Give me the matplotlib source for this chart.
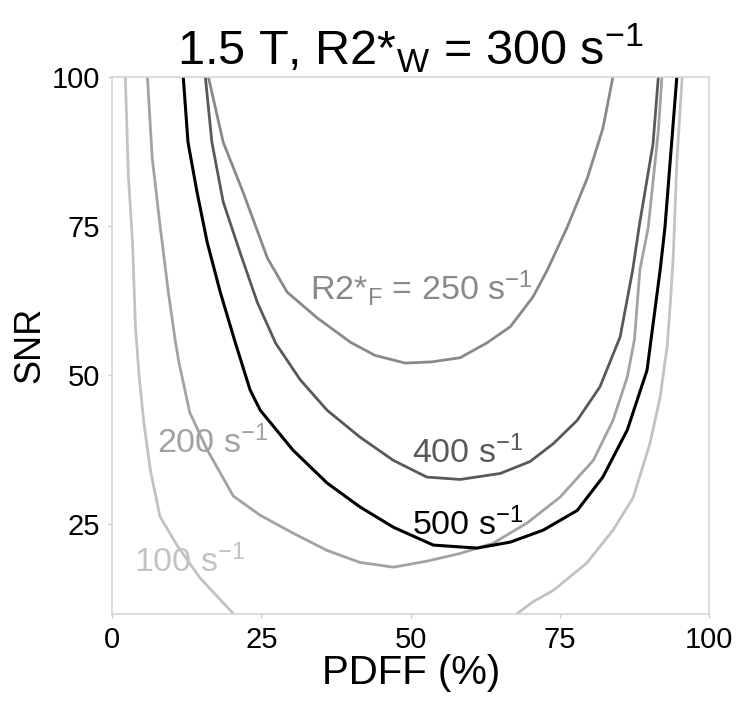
import numpy as np
import matplotlib
matplotlib.use("Agg")
import matplotlib.pyplot as plt

plt.rcParams['font.family'] = ['Liberation Sans', 'DejaVu Sans']
plt.rcParams['mathtext.fontset'] = 'custom'
plt.rcParams['mathtext.rm'] = 'Liberation Sans'
plt.rcParams['mathtext.it'] = 'Liberation Sans:italic'

# iso-error contours: PDFF (%) vs SNR, one per R2*_F
pdff_100 = [2.2, 2.7, 3.4, 3.9, 4.5, 5.3, 6.4, 8.0, 10.9, 14.7, 17.5, 20.3, np.nan,
            67.8, 70.5, 73.9, 79.5, 83.9, 87.3, 90.1, 91.8, 93.0, 93.5, 94.0, 94.6, 95.5]
snr_100 = [100, 83.6, 72.3, 58, 50, 42, 34, 26.3, 21.4, 16, 13, 10, np.nan,
           10, 12, 13.9, 18.5, 24, 29.5, 38.6, 46.3, 55, 62, 70, 85.8, 100]

pdff_200 = [5.9, 6.7, 8.0, 9.4, 10.6, 11.2, 13.0, 15.9, 20.3, 24.8, 30.3, 36.0, 41.5, 47.1,
            52.7, 58.3, 63.8, 69.5, 75.0, 80.6, 83.9, 86.3, 87.5, 88.4, 89.8, 91.5, 92.1]
snr_200 = [100, 86.4, 75.2, 63.9, 55.5, 52, 43.7, 37.5, 29.7, 26.5, 23.5, 20.6, 18.6, 17.8,
           18.8, 20.1, 21.8, 25.2, 29.5, 35.7, 42.4, 49.7, 56, 67.6, 74.7, 91, 100]

pdff_250 = [16.1, 18.6, 21.9, 26.0, 29.3, 34.3, 39.9, 44.0, 49.1, 53.5, 58.3, 62.8,
            66.7, 70.5, 72.9, 76.2, 79.6, 82.2, 83.9]
snr_250 = [100, 89, 80.7, 69.6, 63.9, 59.6, 55.5, 53.3, 52, 52.2, 52.9, 55.4,
           58.1, 63.1, 67.6, 74.7, 83, 91.3, 100]

pdff_400 = [15.6, 16.7, 18.6, 21.4, 24.3, 27.4, 31.5, 36.0, 41.5, 47.1, 52.7, 58.3,
            65.0, 70.0, 73.9, 77.9, 81.7, 85.1, 87.2, 88.3, 90.6, 91.5]
snr_400 = [100, 89, 79, 70.6, 62.2, 55.3, 49.2, 44.1, 39.6, 35.7, 32.9, 32.5,
           33.5, 35.5, 38.5, 42.4, 48, 56.4, 67.6, 75, 88.7, 100]

pdff_500 = [11.9, 12.7, 14.2, 15.9, 18.1, 20.6, 23.1, 24.8, 30.3, 36.0, 41.5, 47.1,
            53.8, 61.1, 66.7, 72.2, 77.9, 82.2, 86.3, 89.6, 91.8, 92.6, 94.6]
snr_500 = [100, 89, 80.7, 72.3, 63.9, 55.5, 47.5, 44.1, 37.4, 31.9, 27.9, 24.5,
           21.5, 21, 22, 24, 27.3, 32.9, 40.8, 50.8, 67.6, 74.7, 100]

fig = plt.figure(figsize=(7.48, 7.03), dpi=100)
ax = fig.add_axes([0.150, 0.127, 0.798, 0.764])

ax.plot(pdff_100, snr_100, color='#c2c2c2', lw=2.0)
ax.plot(pdff_200, snr_200, color='#a2a2a2', lw=2.0)
ax.plot(pdff_250, snr_250, color='#898989', lw=2.0)
ax.plot(pdff_400, snr_400, color='#595959', lw=2.0)
ax.plot(pdff_500, snr_500, color='#000000', lw=2.2)

lab_size = 24.5
ax.text(51.8, 62.6, r'R2*$_\mathregular{F}$ = 250 s$^\mathregular{-1}$', color='#898989',
        fontsize=lab_size, ha='center', va='baseline')
ax.text(59.6, 35.2, r'400 s$^\mathregular{-1}$', color='#595959', fontsize=lab_size,
        ha='center', va='baseline')
ax.text(59.6, 23.2, r'500 s$^\mathregular{-1}$', color='#000000', fontsize=lab_size,
        ha='center', va='baseline')
ax.text(16.8, 36.9, r'200 s$^\mathregular{-1}$', color='#a2a2a2', fontsize=lab_size,
        ha='center', va='baseline')
ax.text(12.9, 17.0, r'100 s$^\mathregular{-1}$', color='#c2c2c2', fontsize=lab_size,
        ha='center', va='baseline')

ax.set_xlim(0, 100)
ax.set_ylim(10, 100)
ax.set_xticks([0, 25, 50, 75, 100])
ax.set_yticks([25, 50, 75, 100])
ax.tick_params(direction='out', length=3, width=1, color='#cccccc',
               labelsize=21, pad=6)
for s in ax.spines.values():
    s.set_color('#d6d6d6')
    s.set_linewidth(1.2)

ax.set_xlabel('PDFF (%)', fontsize=29, labelpad=0)
ax.set_ylabel('SNR', fontsize=26, labelpad=3)
ax.set_title(r'1.5 T, R2*$_\mathregular{W}$ = 300 s$^\mathregular{-1}$', fontsize=35, pad=8)

fig.savefig('out.png', dpi=100)
